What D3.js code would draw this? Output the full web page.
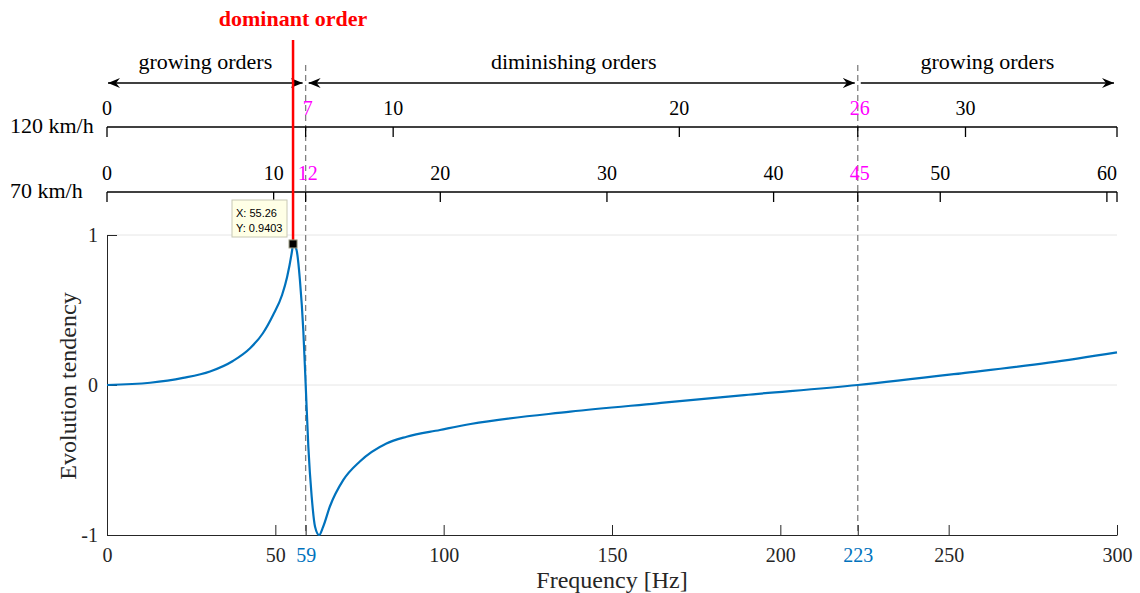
<!DOCTYPE html>
<html>
<head>
<meta charset="utf-8">
<script src="https://cdn.jsdelivr.net/npm/d3@7"></script>
<style>
  body { margin: 0; background: #fff; }
  text { font-family: "Liberation Serif", "Times New Roman", serif; }
  text.tip { font-family: "Liberation Sans", Arial, sans-serif; }
</style>
</head>
<body>
<svg width="1140" height="593"></svg>
<script>
// curve
var freq = [0, 12.8, 22.6, 30.6, 37.4, 42.5, 46.3, 49.3, 52, 53.5, 55, 55.26, 56.3, 57.3, 58.3, 59, 59.8, 60.8, 61.8, 63, 64.2, 66.2, 70.2, 75.1, 83, 89, 98.9, 108, 137.6, 163.4, 189.3, 223, 253.8, 279.7, 300];
var tendency = [0, 0.015, 0.047, 0.09, 0.16, 0.245, 0.345, 0.465, 0.6, 0.72, 0.9, 0.9403, 0.9, 0.7, 0.367, 0.01, -0.41, -0.745, -0.945, -1.0, -0.945, -0.81, -0.633, -0.51, -0.39, -0.345, -0.3, -0.26, -0.178, -0.122, -0.067, 0, 0.078, 0.149, 0.218];

var freqTicks = [0, 50, 100, 150, 200, 250, 300];
var boundaryFreqs = [59, 223];
var yTicks = [-1, 0, 1];

// order axes (Hz per order at each speed)
var hzPerOrder120 = 8.5;
var orderTicks120 = [0, 10, 20, 30];
var boundaryOrders120 = [7, 26];
var hzPerOrder70 = 4.95;
var orderTicks70 = [0, 10, 20, 30, 40, 50, 60];
var boundaryOrders70 = [12, 45];

var peakFreq = 55.26, peakVal = 0.9403;
var zoneLabels = ["growing orders", "diminishing orders", "growing orders"];

var svg = d3.select("svg");
var ink = "#262626", blue = "#0072BD", magenta = "#FF00FF";

var x = d3.scaleLinear([0, 300], [107, 1117]);
var y = d3.scaleLinear([-1, 1], [535, 235]);

// y grid
svg.selectAll("line.grid").data([0, 1]).enter().append("line")
  .attr("x1", x(0)).attr("x2", x(300))
  .attr("y1", function (d) { return y(d); }).attr("y2", function (d) { return y(d); })
  .attr("stroke", "#e6e6e6").attr("stroke-width", 1);

// dashed boundary lines
svg.selectAll("line.bound").data(boundaryFreqs).enter().append("line")
  .attr("x1", function (d) { return x(d); }).attr("x2", function (d) { return x(d); })
  .attr("y1", 65).attr("y2", y(-1))
  .attr("stroke", "#808080").attr("stroke-width", 1.3).attr("stroke-dasharray", "6,4");

// bottom axis
var xAxis = d3.axisBottom(x).tickValues(freqTicks.concat(boundaryFreqs)).tickSize(-10).tickPadding(13).tickSizeOuter(0);
var gx = svg.append("g").attr("transform", "translate(0," + y(-1) + ")").call(xAxis);
gx.select(".domain").attr("stroke", ink);
gx.selectAll(".tick line").attr("stroke", ink);
gx.selectAll(".tick text").attr("font-size", 20).attr("font-family", null)
  .attr("fill", function (d) { return boundaryFreqs.indexOf(d) >= 0 ? blue : ink; });

// left axis
var yAxis = d3.axisLeft(y).tickValues(yTicks).tickSize(-10).tickPadding(9).tickSizeOuter(0)
  .tickFormat(function (d) { return String(d); });
var gy = svg.append("g").attr("transform", "translate(" + x(0) + ",0)").call(yAxis);
gy.select(".domain").attr("stroke", ink);
gy.selectAll(".tick line").attr("stroke", ink);
gy.selectAll(".tick text").attr("font-size", 20).attr("font-family", null).attr("fill", ink);

svg.append("text").attr("x", x(150)).attr("y", 588).attr("text-anchor", "middle")
  .attr("font-size", 24).attr("fill", ink).text("Frequency [Hz]");
svg.append("text").attr("transform", "translate(76,386) rotate(-90)").attr("text-anchor", "middle")
  .attr("font-size", 24).attr("fill", ink).text("Evolution tendency");

// order axes on top
function orderAxis(yPos, hzPerOrder, ticks, marks, label) {
  var g = svg.append("g");
  g.append("line").attr("x1", x(0)).attr("x2", x(300)).attr("y1", yPos).attr("y2", yPos)
    .attr("stroke", "#000").attr("stroke-width", 1.3);
  var all = ticks.map(function (o) { return { o: o, f: o * hzPerOrder, hi: false }; })
    .concat(marks.map(function (o, i) { return { o: o, f: boundaryFreqs[i], hi: true }; }));
  g.selectAll("line.t").data(all.concat([{ o: null, f: 300 }])).enter().append("line")
    .attr("x1", function (d) { return x(d.f); }).attr("x2", function (d) { return x(d.f); })
    .attr("y1", yPos).attr("y2", yPos + 10).attr("stroke", "#000").attr("stroke-width", 1.3);
  g.selectAll("text.t").data(all).enter().append("text")
    .attr("x", function (d) { return x(d.f) + (d.hi ? 2 : 0); }).attr("y", yPos - 12)
    .attr("text-anchor", "middle").attr("font-size", 20)
    .attr("fill", function (d) { return d.hi ? magenta : "#000"; })
    .text(function (d) { return d.o; });
  svg.append("text").attr("x", 10).attr("y", yPos + 6).attr("font-size", 22).attr("fill", "#000").text(label);
}
orderAxis(127, hzPerOrder120, orderTicks120, boundaryOrders120, "120 km/h");
orderAxis(192, hzPerOrder70, orderTicks70, boundaryOrders70, "70 km/h");

// zone arrows
var defs = svg.append("defs");
defs.append("marker").attr("id", "ah").attr("viewBox", "0 0 12 10").attr("refX", 12).attr("refY", 5)
  .attr("markerWidth", 12).attr("markerHeight", 10).attr("markerUnits", "userSpaceOnUse")
  .attr("orient", "auto-start-reverse")
  .append("path").attr("d", "M0,0 L12,5 L0,10 L4,5 Z").attr("fill", "#000");

var zones = [
  { a: 0, b: boundaryFreqs[0], s: true },
  { a: boundaryFreqs[0], b: boundaryFreqs[1], s: true },
  { a: boundaryFreqs[1], b: 300, s: false }
];
zones.forEach(function (z, i) {
  var x1 = x(z.a) + (i === 0 ? 1 : 3), x2 = x(z.b) - 3;
  var ln = svg.append("line").attr("x1", x1).attr("x2", x2).attr("y1", 83).attr("y2", 83)
    .attr("stroke", "#000").attr("stroke-width", 1.3).attr("marker-end", "url(#ah)");
  if (z.s) ln.attr("marker-start", "url(#ah)");
  svg.append("text").attr("x", (x1 + x2) / 2 + (i === 1 ? -8 : 0)).attr("y", 69).attr("text-anchor", "middle")
    .attr("font-size", 22).attr("fill", "#000").text(zoneLabels[i]);
});

// curve
var line = d3.line()
  .x(function (d, i) { return x(freq[i]); })
  .y(function (d) { return y(d); })
  .curve(d3.curveMonotoneX);
svg.append("path").datum(tendency).attr("d", line)
  .attr("fill", "none").attr("stroke", blue).attr("stroke-width", 2.2);

// dominant order marker
svg.append("line").attr("x1", x(peakFreq)).attr("x2", x(peakFreq)).attr("y1", 40).attr("y2", y(peakVal))
  .attr("stroke", "#ff0000").attr("stroke-width", 2.5);
svg.append("text").attr("x", x(peakFreq)).attr("y", 26).attr("text-anchor", "middle")
  .attr("font-size", 22).attr("font-weight", "bold").attr("fill", "#ff0000").text("dominant order");

// data tip
var tip = svg.append("g");
tip.append("rect").attr("x", 232).attr("y", 200).attr("width", 55).attr("height", 37)
  .attr("fill", "#ffffe6").attr("stroke", "#c8c8b4").attr("stroke-width", 1);
tip.append("text").attr("class", "tip").attr("x", 236).attr("y", 217)
  .attr("font-size", 11).attr("fill", "#000").text("X: " + peakFreq);
tip.append("text").attr("class", "tip").attr("x", 236).attr("y", 232)
  .attr("font-size", 11).attr("fill", "#000").text("Y: " + peakVal);
svg.append("rect").attr("x", x(peakFreq) - 4).attr("y", y(peakVal) - 4).attr("width", 8).attr("height", 8)
  .attr("fill", "#000").attr("stroke", "#9a9a80").attr("stroke-width", 1);
</script>
</body>
</html>
